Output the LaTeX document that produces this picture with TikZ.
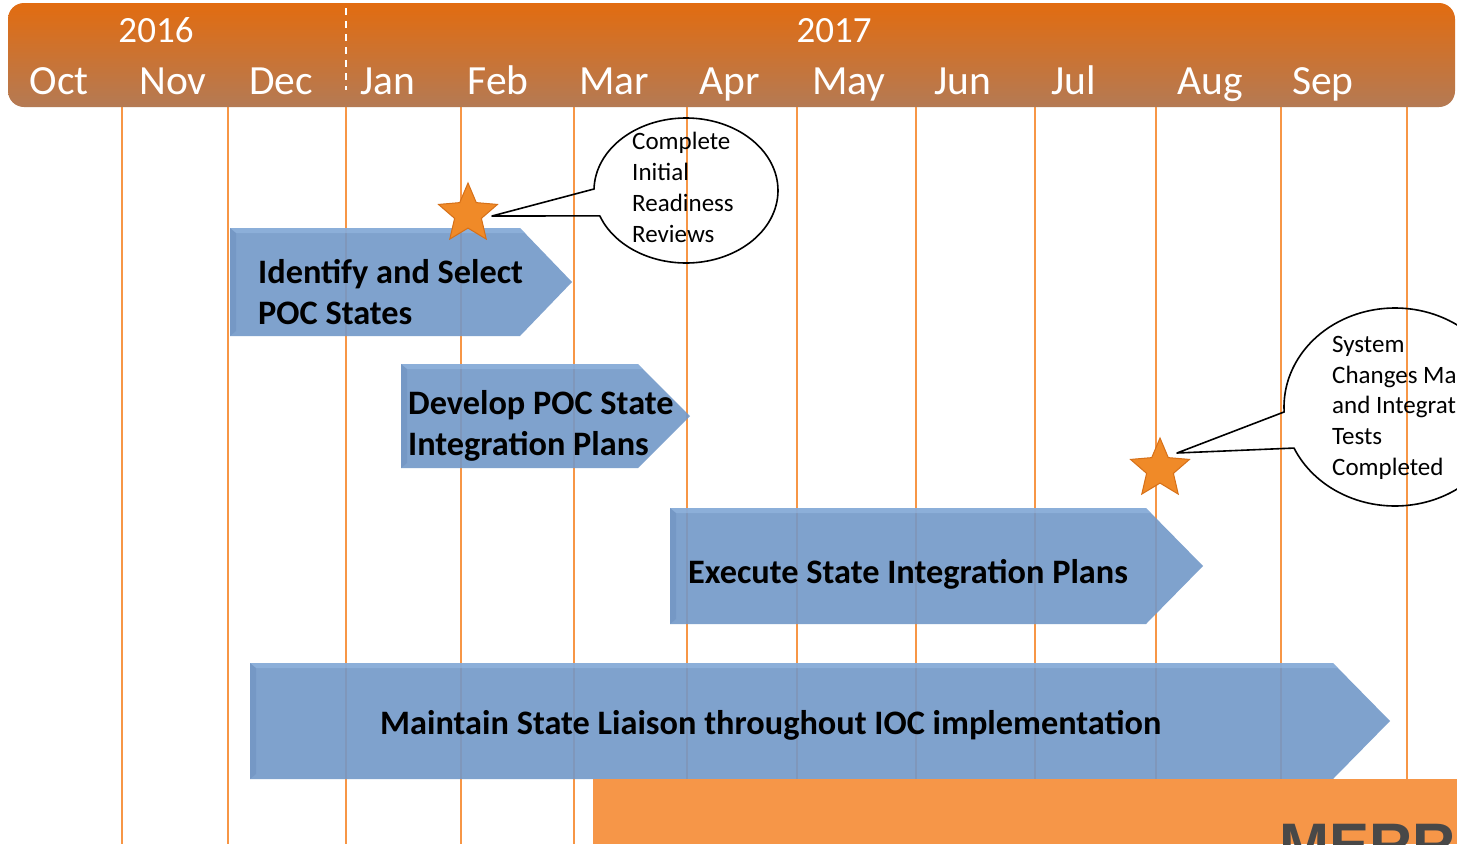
\documentclass[tikz,border=0pt]{standalone}
\usepackage{fontspec}
\setmainfont{Carlito}
\newfontfamily\merrafont{Liberation Sans}
\usetikzlibrary{shapes.geometric}
\definecolor{hdrtop}{RGB}{226,108,16}
\definecolor{hdrbot}{RGB}{180,122,84}
\definecolor{gridorange}{RGB}{247,150,70}
\definecolor{boxorange}{RGB}{246,150,72}
\definecolor{arrowfill}{RGB}{114,152,200}
\definecolor{arrowlight}{RGB}{150,184,226}
\definecolor{arrowdark}{RGB}{100,136,184}
\definecolor{starfill}{RGB}{240,138,40}
\definecolor{stardraw}{RGB}{214,112,24}
\definecolor{merragray}{RGB}{72,72,72}
\tikzset{
  gridline/.style={draw=gridorange, line width=2pt},
  taskarrow/.style={fill=arrowfill, fill opacity=0.9, draw=none},
  arrowrim/.style={fill=arrowlight, fill opacity=0.6, draw=none},
  arrowside/.style={fill=arrowdark, fill opacity=0.35, draw=none},
  yearlbl/.style={text=white, font=\fontsize{37}{40}\selectfont, anchor=base, inner sep=0},
  monthlbl/.style={text=white, font=\fontsize{41.5}{44}\selectfont, anchor=base, inner sep=0},
  tasklbl/.style={font=\fontsize{34.3}{41}\selectfont\bfseries, anchor=base west, inner sep=0},
  calloutlbl/.style={font=\fontsize{25}{31}\selectfont, anchor=base west, inner sep=0},
  callout/.style={draw=black, line width=1.6pt, line join=round},
  milestone/.style={star, star points=5, star point ratio=2.2, minimum size=62pt, inner sep=0,
     fill=starfill, draw=stardraw, line width=1pt}
}
\begin{document}
\begin{tikzpicture}[x=1pt,y=-1pt]
\useasboundingbox (0,0) rectangle (1457,844);
\clip (0,0) rectangle (1457,844);
\fill[white] (0,0) rectangle (1457,844);

% grid lines
\foreach \gx/\gn in {122/a,228/b,346/c,461/d,574/e,687/f,797/g,916/h,1035/i,1156/j,1281/k,1407/l}{
  \coordinate (gt\gn) at (\gx,100);
  \coordinate (gb\gn) at (\gx,844);
  \draw[gridline] (gt\gn) -- (gb\gn);
}

% header bar
\shade[top color=hdrtop, bottom color=hdrbot, rounded corners=16pt]
  (8,3) rectangle (1455,107);
\draw[white, line width=1.5pt, dash pattern=on 7pt off 6pt] (346,8) -- (346,90);
\node[yearlbl] (y2016) at (156,42) {2016};
\node[yearlbl] (y2017) at (834,42) {2017};
\foreach \mx/\mt in {59/Oct,173/Nov,281/Dec,388/Jan,498/Feb,614/Mar,730/Apr,849/May,963/Jun,1074/Jul,1210/Aug,1323/Sep}{
  \node[monthlbl] (m\mt) at (\mx,94) {\mt};
}

% task arrows
\foreach \xa/\ta/\xs/\xt/\bo in {230/228/520/572/336, 401/364/638/690/468, 670/508/1146/1203/624, 250/663/1333/1390/779}{
  \pgfmathsetmacro{\mi}{(\ta+\bo)/2}
  \fill[taskarrow] (\xa,\ta) -- (\xs,\ta) -- (\xt,\mi) -- (\xs,\bo) -- (\xa,\bo) -- cycle;
  \fill[arrowrim] (\xa,\ta) -- (\xs,\ta) -- (\xs+5,\ta+5) -- (\xa+6,\ta+5) -- cycle;
  \fill[arrowside] (\xa,\ta) -- (\xa+6,\ta+5) -- (\xa+6,\bo-5) -- (\xa,\bo) -- cycle;
}

\node[tasklbl] (t1a) at (258,283) {Identify and Select};
\node[tasklbl] (t1b) at (258,324) {POC States};
\node[tasklbl] (t2a) at (408,414) {Develop POC State};
\node[tasklbl] (t2b) at (408,455) {Integration Plans};
\node[tasklbl] (t3) at (688,583) {Execute State Integration Plans};
\node[tasklbl] (t4) at (380,734) {Maintain State Liaison throughout IOC implementation};

% milestones
\node[milestone] (s1) at (468,214) {};
\node[milestone] (s2) at (1160,469) {};

% callout 1
\coordinate (c1tip) at (492,216);
\draw[callout] (c1tip) -- (594,189)
  -- plot[domain=181:519.5, samples=120, smooth] ({686+92*cos(\x)},{190.5+72.5*sin(\x)})
  -- cycle;
\node[calloutlbl] (c1a) at (632,149) {Complete};
\node[calloutlbl] (c1b) at (632,180) {Initial};
\node[calloutlbl] (c1c) at (632,211) {Readiness};
\node[calloutlbl] (c1d) at (632,242) {Reviews};

% callout 2
\coordinate (c2tip) at (1177,453);
\draw[callout] (c2tip) -- (1284,412)
  -- plot[domain=177:515.5, samples=120, smooth] ({1395+111*cos(\x)},{407+99*sin(\x)})
  -- cycle;
\node[calloutlbl] (c2a) at (1332,352) {System};
\node[calloutlbl] (c2b) at (1332,383) {Changes Ma};
\node[calloutlbl] (c2c) at (1332,413) {and Integrat};
\node[calloutlbl] (c2d) at (1332,444) {Tests};
\node[calloutlbl] (c2e) at (1332,475) {Completed};

% bottom banner
\fill[boxorange] (593,779) rectangle (1457,844);
\node[anchor=base west, inner sep=0, text=merragray, font=\merrafont\bfseries\fontsize{60}{60}\selectfont] (merra) at (1279,865) {MERRA};
\end{tikzpicture}
\end{document}
